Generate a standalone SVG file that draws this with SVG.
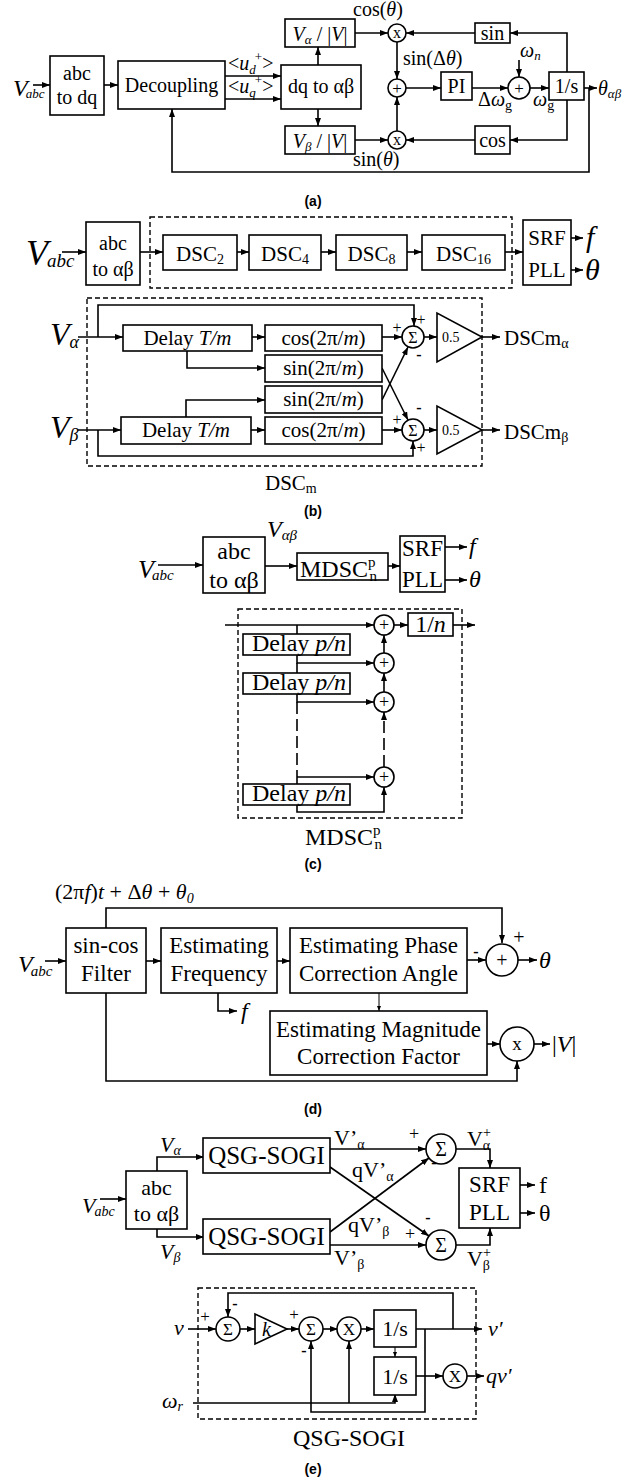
<svg xmlns="http://www.w3.org/2000/svg" width="640" height="1477" viewBox="0 0 640 1477">
<defs>
<marker id="ah" markerWidth="8" markerHeight="6" refX="8" refY="3" orient="auto" markerUnits="userSpaceOnUse"><path d="M0,0 L8,3 L0,6 z" fill="#000"/></marker>
<marker id="as" markerWidth="5" markerHeight="4" refX="5" refY="2" orient="auto" markerUnits="userSpaceOnUse"><path d="M0,0 L5,2 L0,4 z" fill="#000"/></marker>
</defs>
<style>
.bx{fill:#fff;stroke:#000;stroke-width:1.6}
.c{fill:none;stroke:#000;stroke-width:1.6}
.w{fill:none;stroke:#000;stroke-width:1.6;marker-end:url(#ah)}
.ws{fill:none;stroke:#000;stroke-width:1;marker-end:url(#as)}
.ds{fill:none;stroke:#000;stroke-width:1.4;stroke-dasharray:5,3}
.ld{stroke-dasharray:12,5}
text{font-family:"Liberation Serif","Times New Roman",serif;fill:#000}
.m{text-anchor:middle}
.i{font-style:italic}
.cap{font-family:"Liberation Sans",Arial,sans-serif;font-weight:bold;font-size:14px;text-anchor:middle}
.f20{font-size:20px}
.f21{font-size:21px}
.f22{font-size:22px}
.f23{font-size:23px}
.f24{font-size:24px}
.f25{font-size:25px}
.sg{font-size:16px;text-anchor:middle}
</style>

<!-- ================= (a) ================= -->
<g id="a-connectors">
<path class="w" d="M33,85 H50"/>
<path class="w" d="M104,85 H118"/>
<path class="w" d="M225,76 H281"/>
<path class="w" d="M225,99 H281"/>
<path class="w" d="M318,65 V47"/>
<path class="w" d="M318,109 V126"/>
<path class="w" d="M355,33 H388"/>
<path class="w" d="M475,33 H406"/>
<path class="w" d="M567,72 V33 H510"/>
<path class="w" d="M355,140 H388"/>
<path class="w" d="M475,140 H406"/>
<path class="w" d="M567,100 V140 H510"/>
<path class="w" d="M397,42 V79"/>
<path class="w" d="M397,131 V97"/>
<path class="w" d="M406,88 H441"/>
<path class="w" d="M472,88 H508"/>
<path class="w" d="M519,60 V77"/>
<path class="w" d="M530,88 H549"/>
<path class="w" d="M584,88 H597"/>
<path class="w" d="M589,88 V172 H172 V109"/>
</g>
<g id="a-vabc"><text x="13" y="96" class="i" font-size="24">V<tspan font-size="13" dx="-2" dy="2">abc</tspan></text></g>
<g id="a-abc2dq"><rect class="bx" x="50" y="56" width="54" height="59"/><text x="77" y="80" class="m f20">abc</text><text x="77" y="104" class="m f20">to dq</text></g>
<g id="a-decoupling"><rect class="bx" x="118" y="61" width="107" height="48"/><text x="171.5" y="92" class="m f20">Decoupling</text></g>
<g id="a-ud"><text x="228" y="70" class="f20">&lt;<tspan class="i">u</tspan><tspan font-size="13" class="i" dy="4">d</tspan><tspan font-size="13" dy="-13" dx="-1">+</tspan><tspan dy="9">&gt;</tspan></text></g>
<g id="a-uq"><text x="228" y="93" class="f20">&lt;<tspan class="i">u</tspan><tspan font-size="13" class="i" dy="4">q</tspan><tspan font-size="13" dy="-13" dx="-1">+</tspan><tspan dy="9">&gt;</tspan></text></g>
<g id="a-dq2ab"><rect class="bx" x="281" y="65" width="80" height="44"/><text x="321" y="93" class="m f20">dq to αβ</text></g>
<g id="a-va"><rect class="bx" x="285" y="19" width="70" height="28"/><text x="320" y="41" class="m f20"><tspan class="i">V</tspan><tspan font-size="13" class="i" dy="3">α</tspan><tspan dy="-3"> / |</tspan><tspan class="i">V</tspan>|</text></g>
<g id="a-vb"><rect class="bx" x="285" y="126" width="70" height="28"/><text x="320" y="148" class="m f20"><tspan class="i">V</tspan><tspan font-size="13" class="i" dy="3">β</tspan><tspan dy="-3"> / |</tspan><tspan class="i">V</tspan>|</text></g>
<g id="a-mul1"><circle class="bx" cx="397" cy="33" r="9"/><text x="397" y="38" class="m" font-size="16">x</text></g>
<g id="a-mul2"><circle class="bx" cx="397" cy="140" r="9"/><text x="397" y="145" class="m" font-size="16">x</text></g>
<g id="a-sum1"><circle class="bx" cx="397" cy="88" r="9"/><text x="397" y="94" class="m" font-size="17">+</text></g>
<g id="a-sin"><rect class="bx" x="475" y="23" width="35" height="20"/><text x="492.5" y="40" class="m f20">sin</text></g>
<g id="a-cos"><rect class="bx" x="475" y="126" width="35" height="28"/><text x="492.5" y="147" class="m f20">cos</text></g>
<g id="a-pi"><rect class="bx" x="441" y="72" width="31" height="28"/><text x="456.5" y="93" class="m f20">PI</text></g>
<g id="a-sum2"><circle class="bx" cx="519" cy="88" r="11"/><text x="519" y="94" class="m" font-size="17">+</text></g>
<g id="a-int"><rect class="bx" x="549" y="72" width="35" height="28"/><text x="566.5" y="93" class="m f20">1/s</text></g>
<g id="a-labels">
<text x="353" y="16" class="f20">cos(<tspan class="i">θ</tspan>)</text>
<text x="403" y="65" class="f20">sin(Δ<tspan class="i">θ</tspan>)</text>
<text x="353" y="166" class="f20">sin(<tspan class="i">θ</tspan>)</text>
<text x="520" y="57" class="f20 i">ω<tspan font-size="13" dy="3">n</tspan></text>
<text x="478" y="106" class="f20">Δ<tspan class="i">ω</tspan><tspan font-size="14" dy="4">g</tspan></text>
<text x="533" y="106" class="f20"><tspan class="i">ω</tspan><tspan font-size="14" dy="4">g</tspan></text>
<text x="598" y="95" class="f20 i">θ<tspan font-size="13" dy="3">αβ</tspan></text>
</g>
<text class="cap" x="313" y="206">(a)</text>

<!-- ================= (b) top ================= -->
<g id="b-connectors">
<path class="w" d="M62,252 H86"/>
<path class="w" d="M140,252 H163"/>
<path class="w" d="M237,252 H249"/>
<path class="w" d="M321,252 H336"/>
<path class="w" d="M407,252 H422"/>
<path class="w" d="M505,252 H523"/>
<path class="w" d="M571,238 H583"/>
<path class="w" d="M571,270 H583"/>
<path class="w" d="M78,337 H123"/>
<path class="w" d="M98,337 V305 H414 V326"/>
<path class="w" d="M252,337 H265"/>
<path class="w" d="M187,351 V368 H265"/>
<path class="w" d="M382,337 H402"/>
<path class="w" d="M382,368 L408,420"/>
<path class="w" d="M382,400 L408,347"/>
<path class="w" d="M78,430 H121"/>
<path class="w" d="M98,430 V456 H413 V441"/>
<path class="w" d="M251,430 H265"/>
<path class="w" d="M186,417 V400 H265"/>
<path class="w" d="M382,430 H402"/>
<path class="w" d="M424,337 H437"/>
<path class="w" d="M424,430 H437"/>
<path class="w" d="M482,337 H500"/>
<path class="w" d="M482,430 H500"/>
</g>
<rect class="ds" x="150" y="217" width="362" height="71"/>
<g id="b-vabc"><text x="26" y="265" class="i" font-size="36">V<tspan font-size="19" dx="-1" dy="2">abc</tspan></text></g>
<g id="b-abc2ab"><rect class="bx" x="86" y="222" width="54" height="63"/><text x="113" y="250" class="m f20">abc</text><text x="113" y="276" class="m f20">to αβ</text></g>
<g id="b-dsc2"><rect class="bx" x="163" y="235" width="74" height="35"/><text x="200" y="261" class="m f21">DSC<tspan font-size="14" dy="3">2</tspan></text></g>
<g id="b-dsc4"><rect class="bx" x="249" y="235" width="72" height="35"/><text x="285" y="261" class="m f21">DSC<tspan font-size="14" dy="3">4</tspan></text></g>
<g id="b-dsc8"><rect class="bx" x="336" y="235" width="71" height="35"/><text x="371.5" y="261" class="m f21">DSC<tspan font-size="14" dy="3">8</tspan></text></g>
<g id="b-dsc16"><rect class="bx" x="422" y="235" width="83" height="35"/><text x="463.5" y="261" class="m f21">DSC<tspan font-size="14" dy="3">16</tspan></text></g>
<g id="b-srf"><rect class="bx" x="523" y="220" width="48" height="65"/><text x="547" y="245" class="m f21">SRF</text><text x="547" y="277" class="m f21">PLL</text></g>
<text x="586" y="247" class="i" font-size="30">f</text>
<text x="585" y="280" class="i" font-size="30">θ</text>

<!-- ================= (b) DSCm ================= -->
<rect class="ds" x="87" y="298" width="395" height="168"/>
<g id="b-va"><text x="50" y="345" class="i" font-size="32">V<tspan font-size="18" dy="3">α</tspan></text></g>
<g id="b-vb"><text x="50" y="438" class="i" font-size="32">V<tspan font-size="18" dy="3">β</tspan></text></g>
<g id="b-delay-a"><rect class="bx" x="123" y="325" width="129" height="26"/><text x="187.5" y="345" class="m f21">Delay <tspan class="i">T/m</tspan></text></g>
<g id="b-cos-a"><rect class="bx" x="265" y="325" width="117" height="26"/><text x="323.5" y="345" class="m f21">cos(2π/<tspan class="i">m</tspan>)</text></g>
<g id="b-sin-a"><rect class="bx" x="265" y="355" width="117" height="27"/><text x="323.5" y="375" class="m f21">sin(2π/<tspan class="i">m</tspan>)</text></g>
<g id="b-sin-b"><rect class="bx" x="265" y="386" width="117" height="27"/><text x="323.5" y="406" class="m f21">sin(2π/<tspan class="i">m</tspan>)</text></g>
<g id="b-cos-b"><rect class="bx" x="265" y="417" width="117" height="27"/><text x="323.5" y="437" class="m f21">cos(2π/<tspan class="i">m</tspan>)</text></g>
<g id="b-delay-b"><rect class="bx" x="121" y="417" width="130" height="27"/><text x="186" y="437" class="m f21">Delay <tspan class="i">T/m</tspan></text></g>
<g id="b-sum-a"><circle class="bx" cx="413" cy="337" r="11"/><text x="413" y="343" class="m" font-size="16">Σ</text></g>
<g id="b-sum-b"><circle class="bx" cx="413" cy="430" r="11"/><text x="413" y="436" class="m" font-size="16">Σ</text></g>
<g id="b-gain-a"><polygon class="bx" points="437,313 437,362 482,337"/><text x="442" y="342" font-size="14">0.5</text></g>
<g id="b-gain-b"><polygon class="bx" points="437,406 437,454 482,430"/><text x="442" y="435" font-size="14">0.5</text></g>
<g id="b-signs">
<text x="397" y="333" class="sg">+</text>
<text x="421" y="325" class="sg">+</text>
<text x="419" y="360" class="sg" font-weight="bold">-</text>
<text x="397" y="425" class="sg">+</text>
<text x="419" y="413" class="sg" font-weight="bold">-</text>
<text x="421" y="453" class="sg">+</text>
</g>
<text x="504" y="345" class="f21">DSCm<tspan font-size="14" dy="3">α</tspan></text>
<text x="504" y="439" class="f21">DSCm<tspan font-size="14" dy="3">β</tspan></text>
<text x="265" y="490" class="f21">DSC<tspan font-size="14" dy="3">m</tspan></text>
<text class="cap" x="313" y="516">(b)</text>

<!-- ================= (c) ================= -->
<g id="c-connectors">
<path class="w" d="M158,565 H203"/>
<path class="w" d="M265,566 H297"/>
<path class="w" d="M388,566 H400"/>
<path class="w" d="M445,547 H467"/>
<path class="w" d="M445,580 H467"/>
<path class="w" d="M225,625 H374"/>
<path class="c" d="M297,625 V634"/>
<path class="w" d="M297,655 V663 H374"/>
<path class="c" d="M297,663 V673"/>
<path class="w" d="M297,694 V702 H374"/>
<path class="c ld" d="M297,702 V777"/>
<path class="w" d="M297,777 H374"/>
<path class="c" d="M297,777 V784"/>
<path class="w" d="M297,805 V812 H384 V787"/>
<path class="w ld" d="M384,767 V712"/>
<path class="w" d="M384,692 V673"/>
<path class="w" d="M384,653 V635"/>
<path class="w" d="M394,625 H408"/>
<path class="w" d="M453,625 H475"/>
</g>
<g id="c-vabc"><text x="138" y="578" class="i" font-size="26">V<tspan font-size="15" dx="-2" dy="2">abc</tspan></text></g>
<g id="c-abc2ab"><rect class="bx" x="203" y="537" width="62" height="56"/><text x="234" y="559" class="m f24">abc</text><text x="234" y="588" class="m f24">to αβ</text></g>
<text x="267" y="537" class="i" font-size="24">V<tspan font-size="15" dy="3">αβ</tspan></text>
<g id="c-mdsc"><rect class="bx" x="297" y="553" width="91" height="27"/><text x="300" y="577" class="f24">MDSC<tspan font-size="15" dy="-10">p</tspan><tspan font-size="15" dx="-6" dy="14">n</tspan></text></g>
<g id="c-srf"><rect class="bx" x="400" y="536" width="45" height="56"/><text x="422.5" y="556" class="m f23">SRF</text><text x="422.5" y="587" class="m f23">PLL</text></g>
<text x="469" y="554" class="i f24">f</text>
<text x="469" y="587" class="i f24">θ</text>
<rect class="ds" x="238" y="609" width="224" height="209"/>
<g id="c-delay1"><rect class="bx" x="243" y="634" width="107" height="21"/><text x="299" y="651" class="m f24">Delay <tspan class="i">p/n</tspan></text></g>
<g id="c-delay2"><rect class="bx" x="243" y="673" width="107" height="21"/><text x="299" y="690" class="m f24">Delay <tspan class="i">p/n</tspan></text></g>
<g id="c-delay3"><rect class="bx" x="243" y="784" width="107" height="21"/><text x="299" y="801" class="m f24">Delay <tspan class="i">p/n</tspan></text></g>
<g id="c-sum1"><circle class="bx" cx="384" cy="625" r="10"/><text x="384" y="631" class="m" font-size="18">+</text></g>
<g id="c-sum2"><circle class="bx" cx="384" cy="663" r="10"/><text x="384" y="669" class="m" font-size="18">+</text></g>
<g id="c-sum3"><circle class="bx" cx="384" cy="702" r="10"/><text x="384" y="708" class="m" font-size="18">+</text></g>
<g id="c-sum4"><circle class="bx" cx="384" cy="777" r="10"/><text x="384" y="783" class="m" font-size="18">+</text></g>
<g id="c-gain"><rect class="bx" x="408" y="613" width="45" height="23"/><text x="430.5" y="632" class="m f24">1/<tspan class="i">n</tspan></text></g>
<text x="305" y="845" class="f24">MDSC<tspan font-size="15" dy="-10">p</tspan><tspan font-size="15" dx="-6" dy="14">n</tspan></text>
<text class="cap" x="313" y="869">(c)</text>

<!-- ================= (d) ================= -->
<g id="d-connectors">
<path class="w" d="M106,928 V908 H502 V943"/>
<path class="w" d="M45,961 H66"/>
<path class="w" d="M146,961 H161"/>
<path class="w" d="M277,961 H290"/>
<path class="w" d="M467,960 H486"/>
<path class="w" d="M518,960 H537"/>
<path class="ws" d="M379,993 V1011"/>
<path class="w" d="M487,1044 H500"/>
<path class="w" d="M534,1044 H550"/>
<path class="w" d="M106,993 V1081 H517 V1061"/>
<path class="w" d="M218,993 V1011 H237"/>
</g>
<text x="55" y="899" class="f22">(2π<tspan class="i">f</tspan>)<tspan class="i">t</tspan> + Δ<tspan class="i">θ</tspan> + <tspan class="i">θ</tspan><tspan class="i" font-size="14" dy="4">0</tspan></text>
<g id="d-vabc"><text x="18" y="972" class="i f24">V<tspan font-size="15" dx="-2" dy="4">abc</tspan></text></g>
<g id="d-filter"><rect class="bx" x="66" y="928" width="80" height="65"/><text x="106" y="953" class="m f23">sin-cos</text><text x="106" y="981" class="m f23">Filter</text></g>
<g id="d-freq"><rect class="bx" x="161" y="928" width="116" height="65"/><text x="219" y="953" class="m f23">Estimating</text><text x="219" y="981" class="m f23">Frequency</text></g>
<g id="d-phase"><rect class="bx" x="290" y="928" width="177" height="65"/><text x="378.5" y="953" class="m f23">Estimating Phase</text><text x="378.5" y="981" class="m f23">Correction Angle</text></g>
<g id="d-sum"><circle class="bx" cx="502" cy="960" r="16"/><text x="502" y="967" class="m" font-size="20">+</text></g>
<g id="d-mag"><rect class="bx" x="270" y="1011" width="217" height="64"/><text x="378.5" y="1037" class="m f23">Estimating Magnitude</text><text x="378.5" y="1064" class="m f23">Correction Factor</text></g>
<g id="d-mul"><circle class="bx" cx="517" cy="1044" r="17"/><text x="517" y="1050" class="m" font-size="19">x</text></g>
<text x="476" y="957" class="sg" font-weight="bold">-</text>
<text x="519" y="944" class="m" font-size="20">+</text>
<text x="539" y="968" class="i f24">θ</text>
<text x="552" y="1052" class="f24">|<tspan class="i">V</tspan>|</text>
<text x="241" y="1019" class="i f24">f</text>
<text class="cap" x="313" y="1114">(d)</text>

<!-- ================= (e) ================= -->
<g id="e-connectors">
<path class="w" d="M100,1199 H126"/>
<path class="w" d="M157,1171 V1157 H204"/>
<path class="w" d="M157,1229 V1237 H204"/>
<path class="w" d="M330,1149 H426"/>
<path class="w" d="M330,1167 L429,1236"/>
<path class="w" d="M330,1232 L429,1158"/>
<path class="w" d="M330,1245 H426"/>
<path class="w" d="M456,1149 H490 V1168"/>
<path class="w" d="M456,1245 H490 V1228"/>
<path class="w" d="M520,1185 H535"/>
<path class="w" d="M520,1213 H535"/>
<path class="w" d="M188,1329 H216"/>
<path class="w" d="M240,1329 H255"/>
<path class="w" d="M287,1329 H299"/>
<path class="w" d="M323,1329 H338"/>
<path class="w" d="M361,1329 H374"/>
<path class="w" d="M416,1329 H482"/>
<path class="w" d="M453,1329 V1293 H228 V1317"/>
<path class="w" d="M425,1329 V1412 H311 V1341"/>
<path class="ws" d="M395,1347 V1357"/>
<path class="w" d="M416,1376 H443"/>
<path class="w" d="M467,1376 H484"/>
<path class="w" d="M193,1403 H395 V1394"/>
<path class="w" d="M349,1403 V1341"/>
</g>
<g id="e-vabc"><text x="82" y="1213" class="i f22">V<tspan font-size="14" dx="-1" dy="3">abc</tspan></text></g>
<text x="160" y="1152" class="i f22">V<tspan font-size="14" dy="3">α</tspan></text>
<text x="160" y="1259" class="i f22">V<tspan font-size="14" dy="3">β</tspan></text>
<g id="e-abc2ab"><rect class="bx" x="126" y="1171" width="61" height="58"/><text x="156.5" y="1195" class="m f22">abc</text><text x="156.5" y="1221" class="m f22">to αβ</text></g>
<g id="e-qsg1"><rect class="bx" x="203" y="1138" width="127" height="35"/><text x="266.5" y="1164" class="m f25">QSG-SOGI</text></g>
<g id="e-qsg2"><rect class="bx" x="203" y="1219" width="127" height="35"/><text x="266.5" y="1245" class="m f25">QSG-SOGI</text></g>
<g id="e-sum1"><circle class="bx" cx="441" cy="1149" r="15"/><text x="441" y="1156" class="m" font-size="20">Σ</text></g>
<g id="e-sum2"><circle class="bx" cx="441" cy="1245" r="15"/><text x="441" y="1252" class="m" font-size="20">Σ</text></g>
<g id="e-srf"><rect class="bx" x="459" y="1168" width="61" height="60"/><text x="489.5" y="1192" class="m f23">SRF</text><text x="489.5" y="1220" class="m f23">PLL</text></g>
<text x="539" y="1193" class="f24">f</text>
<text x="539" y="1221" class="f24">θ</text>
<text x="334" y="1145" class="f22">V’<tspan font-size="14" dy="4">α</tspan></text>
<text x="352" y="1177" class="f22">qV’<tspan font-size="14" dy="4">α</tspan></text>
<text x="348" y="1232" class="f22">qV’<tspan font-size="14" dy="4">β</tspan></text>
<text x="334" y="1265" class="f22">V’<tspan font-size="14" dy="4">β</tspan></text>
<text x="467" y="1146" class="f22">V<tspan font-size="14" dy="-9">+</tspan><tspan font-size="14" dx="-8" dy="13">α</tspan></text>
<text x="467" y="1266" class="f22">V<tspan font-size="14" dy="-9">+</tspan><tspan font-size="14" dx="-8" dy="13">β</tspan></text>
<text x="414" y="1140" class="m" font-size="18">+</text>
<text x="434" y="1168" class="sg" font-weight="bold">-</text>
<text x="428" y="1223" class="sg" font-weight="bold">-</text>
<text x="410" y="1240" class="m" font-size="18">+</text>

<rect class="ds" x="198" y="1288" width="278" height="131"/>
<g id="e-suma"><circle class="bx" cx="228" cy="1329" r="12"/><text x="228" y="1335" class="m" font-size="17">Σ</text></g>
<g id="e-k"><polygon class="bx" points="255,1314 255,1344 287,1329"/><text x="262" y="1336" class="i" font-size="20">k</text></g>
<g id="e-sumb"><circle class="bx" cx="311" cy="1329" r="12"/><text x="311" y="1335" class="m" font-size="17">Σ</text></g>
<g id="e-x1"><circle class="bx" cx="349" cy="1329" r="12"/><text x="349" y="1335" class="m" font-size="17">X</text></g>
<g id="e-int1"><rect class="bx" x="374" y="1310" width="42" height="37"/><text x="395" y="1336" class="m f22">1/s</text></g>
<g id="e-int2"><rect class="bx" x="374" y="1357" width="42" height="38"/><text x="395" y="1384" class="m f22">1/s</text></g>
<g id="e-x2"><circle class="bx" cx="455" cy="1376" r="12"/><text x="455" y="1382" class="m" font-size="17">X</text></g>
<text x="174" y="1335" class="i f22">v</text>
<text x="205" y="1322" class="m" font-size="17">+</text>
<text x="235" y="1309" class="sg" font-weight="bold">-</text>
<text x="294" y="1320" class="m" font-size="17">+</text>
<text x="304" y="1356" class="sg" font-weight="bold">-</text>
<text x="488" y="1336" class="i f22">v′</text>
<text x="486" y="1383" class="i f22">qv′</text>
<text x="162" y="1408" class="i f22">ω<tspan font-size="14" dy="3">r</tspan></text>
<text x="349" y="1446" class="m f24">QSG-SOGI</text>
<text class="cap" x="313" y="1474">(e)</text>
</svg>
